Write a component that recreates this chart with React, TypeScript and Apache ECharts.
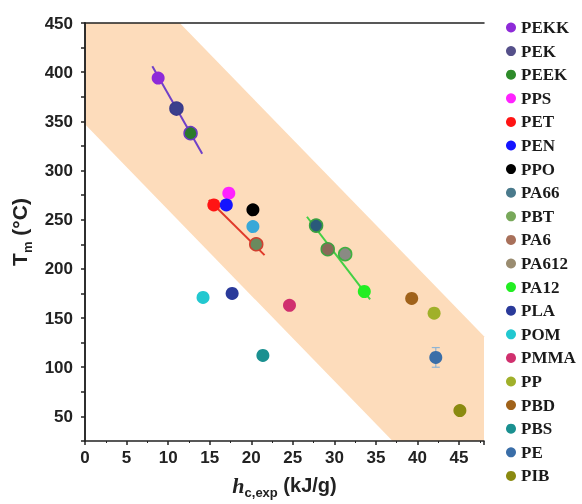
import React, { useEffect, useRef } from "react";
import * as echarts from "echarts";

const polymerNames = ["PEKK","PEK","PEEK","PPS","PET","PEN","PPO","PA66","PBT","PA6","PA612","PA12","PLA","POM","PMMA","PP","PBD","PBS","PE","PIB"];
const polymerColors = ["#8e2ad8","#55508a","#2e8b2a","#ff22ff","#ff1414","#1414ff","#000000","#4a7a8c","#78a85a","#a8705a","#9a8c70","#22ee22","#2a3a9a","#22c8d0","#d0306e","#a0b02a","#a0621a","#1a9090","#3a6ea8","#8a8a10"];
// x: h_c,exp (kJ/g), y: Tm (°C)
const polymerX = [8.8, 11.0, 12.7, 17.3, 15.5, 17.0, 20.2, 27.8, 20.6, 29.2, 31.3, 33.6, 17.7, 14.2, 24.6, 42.0, 39.3, 21.4, 42.2, 45.1];
const polymerY = [394, 363, 338, 277, 265, 265, 260, 244, 225, 220, 215, 177, 175, 171, 163, 155, 170, 112, 110, 56];
const polymerBorders = ["", "#3a3a8a", "#6a3ac0", "", "", "", "", "#3aa040", "#d04030", "#40a040", "#40b040", "", "", "", "", "", "", "", "", ""];
const itemColors = ["", "#3b3f8c", "#2a7a2a", "", "", "", "", "#2a5a7a", "#6a8a5e", "#8a6858", "#8a8a84", "", "", "", "", "", "", "", "", ""];
// extra point (light blue) near 20 kJ/g
const extraPointX = [20.2];
const extraPointY = [243];
const extraPointColor = "#38a8d8";

// PE error bar
const errorX = [42.2];
const errorLow = [100];
const errorHigh = [120];

// fit lines
const fitPurpleX = [8.1, 14.1];
const fitPurpleY = [406, 317];
const fitRedX = [14.9, 21.6];
const fitRedY = [270, 214];
const fitGreenX = [26.7, 34.3];
const fitGreenY = [253, 169];

// shaded band polygon (corners)
const bandX = [0, 11.4, 48, 48, 37.0, 0];
const bandY = [450, 450, 131.6, 25, 25, 347];

const xTicks = [0, 48, 5];
const yTicks = [25, 450, 25];

export default function App() {
  const ref = useRef<HTMLDivElement>(null);
  useEffect(() => {
    document.body.style.margin = "0";
    const chart = echarts.init(ref.current!, null, { renderer: "svg" });
    const labelFont = { fontFamily: "Liberation Sans, Arial, sans-serif", fontWeight: "bold" as const, fontSize: 17, color: "#222" };
    const bandPts = bandX.map((x, i) => [x, bandY[i]]);
    const series: any[] = [
      {
        type: "custom",
        name: "band",
        z: 1,
        silent: true,
        data: [[0, 0]],
        renderItem: (_p: any, api: any) => ({
          type: "polygon",
          shape: { points: bandPts.map((p) => api.coord(p)) },
          style: { fill: "#fddcbb" },
        }),
      },
      {
        type: "custom",
        name: "err",
        z: 3,
        silent: true,
        data: errorX.map((x, i) => [x, errorLow[i], errorHigh[i]]),
        renderItem: (_p: any, api: any) => {
          const lo = api.coord([api.value(0), api.value(1)]);
          const hi = api.coord([api.value(0), api.value(2)]);
          const st = { stroke: "#8fb4d4", lineWidth: 1.2 };
          return {
            type: "group",
            children: [
              { type: "line", shape: { x1: lo[0], y1: lo[1], x2: hi[0], y2: hi[1] }, style: st },
              { type: "line", shape: { x1: lo[0] - 4, y1: lo[1], x2: lo[0] + 4, y2: lo[1] }, style: st },
              { type: "line", shape: { x1: hi[0] - 4, y1: hi[1], x2: hi[0] + 4, y2: hi[1] }, style: st },
            ],
          };
        },
      },
      ...[
        { x: fitPurpleX, y: fitPurpleY, c: "#7040c8" },
        { x: fitRedX, y: fitRedY, c: "#e03a2a" },
        { x: fitGreenX, y: fitGreenY, c: "#44d044" },
      ].map((f, k) => ({
        type: "line",
        name: "fit" + k,
        z: 2,
        silent: true,
        showSymbol: false,
        lineStyle: { color: f.c, width: 2 },
        data: f.x.map((x, i) => [x, f.y[i]]),
      })),
    ];
    polymerNames.forEach((n, i) => {
      const data: any[] = [
        {
          value: [polymerX[i], polymerY[i]],
          itemStyle: {
            color: itemColors[i] || polymerColors[i],
            borderColor: polymerBorders[i] || itemColors[i] || polymerColors[i],
            borderWidth: polymerBorders[i] ? 1.5 : 0,
            opacity: 1,
          },
        },
      ];
      if (n === "PA66") {
        data.push({ value: [extraPointX[0], extraPointY[0]], itemStyle: { color: extraPointColor, borderWidth: 0, opacity: 1 } });
      }
      series.push({
        type: "scatter",
        name: n,
        z: 4,
        symbol: "circle",
        symbolSize: 13,
        itemStyle: { color: polymerColors[i], opacity: 1 },
        data,
      });
    });

    const axisLine = { show: true, lineStyle: { color: "#222", width: 1.5 } };
    chart.setOption({
      animation: false,
      grid: { left: 85, right: 98, top: 23, bottom: 57 },
      legend: {
        orient: "vertical",
        left: 501,
        top: 14,
        itemWidth: 10,
        itemHeight: 10,
        itemGap: 6.6,
        icon: "circle",
        data: polymerNames,
        itemStyle: { opacity: 1 },
        textStyle: { fontFamily: "Liberation Serif, Times New Roman, serif", fontWeight: "bold", fontSize: 17, lineHeight: 17, color: "#1a1a1a" },
      },
      xAxis: [
        {
          type: "value",
          min: xTicks[0],
          max: xTicks[1],
          interval: xTicks[2],
          z: 5,
          axisLine,
          axisTick: { show: true, inside: false, length: 4, lineStyle: { color: "#222", width: 1.5 } },
          minorTick: { show: true, splitNumber: 2, length: 2, lineStyle: { color: "#222", width: 1 } },
          splitLine: { show: false },
          axisLabel: { ...labelFont, margin: 8, showMaxLabel: false, formatter: (v: number) => (v % 5 === 0 ? String(v) : "") },
          name: "{h|h}{sub|c,exp}{n| (kJ/g)}",
          nameLocation: "middle",
          nameGap: 30,
          nameTextStyle: {
            rich: {
              h: { fontFamily: "Liberation Serif, serif", fontStyle: "italic", fontWeight: "bold", fontSize: 22, lineHeight: 28, verticalAlign: "middle", color: "#222" },
              sub: { fontFamily: "Liberation Sans, Arial, sans-serif", fontWeight: "bold", fontSize: 13, lineHeight: 28, verticalAlign: "bottom", color: "#222" },
              n: { fontFamily: "Liberation Sans, Arial, sans-serif", fontWeight: "bold", fontSize: 20, lineHeight: 28, verticalAlign: "middle", color: "#222" },
            },
          },
        },
        {
          type: "value",
          position: "top",
          min: xTicks[0],
          max: xTicks[1],
          z: 5,
          axisLine,
          axisTick: { show: false },
          axisLabel: { show: false },
          splitLine: { show: false },
        },
      ],
      yAxis: [
        {
          type: "value",
          min: yTicks[0],
          max: yTicks[1],
          interval: yTicks[2],
          z: 5,
          axisLine,
          axisTick: { show: true, inside: false, length: 4, lineStyle: { color: "#222", width: 1.5 } },
          splitLine: { show: false },
          axisLabel: { ...labelFont, margin: 12, formatter: (v: number) => (v % 50 === 0 ? String(v) : "") },
          name: "{t|T}{sub|m}{t| (°C)}",
          nameLocation: "middle",
          nameGap: 50,
          nameTextStyle: {
            rich: {
              t: { fontFamily: "Liberation Sans, Arial, sans-serif", fontWeight: "bold", fontSize: 21, lineHeight: 28, verticalAlign: "middle", color: "#222" },
              sub: { fontFamily: "Liberation Sans, Arial, sans-serif", fontWeight: "bold", fontSize: 13, lineHeight: 28, verticalAlign: "bottom", color: "#222" },
            },
          },
        },
        {
          type: "value",
          position: "right",
          min: yTicks[0],
          max: yTicks[1],
          z: 5,
          axisLine,
          axisTick: { show: false },
          axisLabel: { show: false },
          splitLine: { show: false },
        },
      ],
      series,
    });
    return () => chart.dispose();
  }, []);
  return <div ref={ref} style={{ position: "fixed", left: 0, top: 0, width: 582, height: 504 }} />;
}
